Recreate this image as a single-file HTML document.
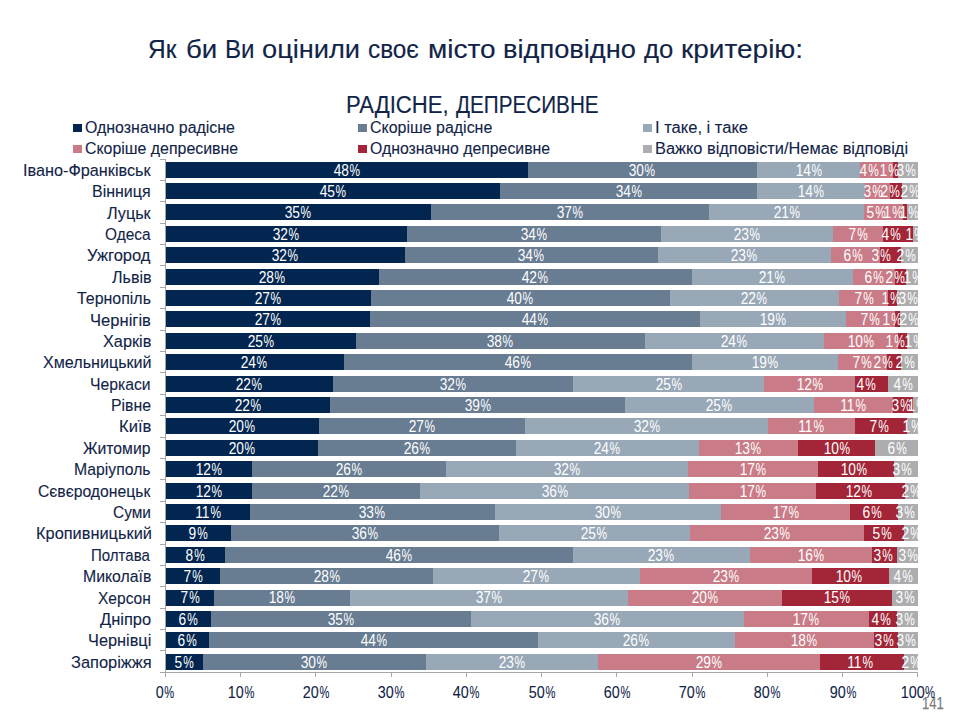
<!DOCTYPE html><html><head><meta charset="utf-8"><style>
html,body{margin:0;padding:0;background:#fff;width:955px;height:719px;overflow:hidden;}
body{position:relative;font-family:"Liberation Sans",sans-serif;}
.t{position:absolute;white-space:nowrap;}
.b{position:absolute;}
</style></head><body>
<div class="b" style="left:73.2px;top:123.7px;width:8.4px;height:8.2px;background:#022650"></div>
<div class="b" style="left:358.2px;top:123.7px;width:8.4px;height:8.2px;background:#687c92"></div>
<div class="b" style="left:643.2px;top:123.7px;width:8.4px;height:8.2px;background:#98a8b7"></div>
<div class="b" style="left:73.2px;top:144.8px;width:8.4px;height:8.2px;background:#c97c87"></div>
<div class="b" style="left:358.2px;top:144.8px;width:8.4px;height:8.2px;background:#a22638"></div>
<div class="b" style="left:643.2px;top:144.8px;width:8.4px;height:8.2px;background:#adadaf"></div>
<div class="t" style="left:148.38px;top:35.67px;font-size:26.5px;line-height:26.5px;color:#112448;transform:scaleX(0.9233);transform-origin:left;-webkit-text-stroke:0.15px #112448">Як</div>
<div class="t" style="left:186.06px;top:35.67px;font-size:26.5px;line-height:26.5px;color:#112448;transform:scaleX(1.0444);transform-origin:left;-webkit-text-stroke:0.15px #112448">би</div>
<div class="t" style="left:224.78px;top:35.67px;font-size:26.5px;line-height:26.5px;color:#112448;transform:scaleX(0.9103);transform-origin:left;-webkit-text-stroke:0.15px #112448">Ви</div>
<div class="t" style="left:262.07px;top:35.67px;font-size:26.5px;line-height:26.5px;color:#112448;transform:scaleX(1.0269);transform-origin:left;-webkit-text-stroke:0.15px #112448">оцінили</div>
<div class="t" style="left:367.58px;top:35.67px;font-size:26.5px;line-height:26.5px;color:#112448;transform:scaleX(0.9185);transform-origin:left;-webkit-text-stroke:0.15px #112448">своє</div>
<div class="t" style="left:428.48px;top:35.67px;font-size:26.5px;line-height:26.5px;color:#112448;transform:scaleX(1.0590);transform-origin:left;-webkit-text-stroke:0.15px #112448">місто</div>
<div class="t" style="left:503.04px;top:35.67px;font-size:26.5px;line-height:26.5px;color:#112448;transform:scaleX(1.0278);transform-origin:left;-webkit-text-stroke:0.15px #112448">відповідно</div>
<div class="t" style="left:643.80px;top:35.67px;font-size:26.5px;line-height:26.5px;color:#112448;transform:scaleX(0.9690);transform-origin:left;-webkit-text-stroke:0.15px #112448">до</div>
<div class="t" style="left:680.69px;top:35.67px;font-size:26.5px;line-height:26.5px;color:#112448;transform:scaleX(1.0568);transform-origin:left;-webkit-text-stroke:0.15px #112448">критерію:</div>
<div class="t" style="left:346.08px;top:93.03px;font-size:24.3px;line-height:24.3px;color:#112448;transform:scaleX(0.9092);transform-origin:left;-webkit-text-stroke:0.15px #112448">РАДІСНЕ,</div>
<div class="t" style="left:456.40px;top:93.03px;font-size:24.3px;line-height:24.3px;color:#112448;transform:scaleX(0.8515);transform-origin:left;-webkit-text-stroke:0.15px #112448">ДЕПРЕСИВНЕ</div>
<div class="t" style="left:84.70px;top:119.66px;font-size:16.0px;line-height:16.0px;color:#112448;transform:scaleX(0.9953);transform-origin:left;-webkit-text-stroke:0.1px #112448">Однозначно радісне</div>
<div class="t" style="left:369.80px;top:119.66px;font-size:16.0px;line-height:16.0px;color:#112448;transform:scaleX(0.9967);transform-origin:left;-webkit-text-stroke:0.1px #112448">Скоріше радісне</div>
<div class="t" style="left:655.37px;top:119.66px;font-size:16.0px;line-height:16.0px;color:#112448;transform:scaleX(1.0337);transform-origin:left;-webkit-text-stroke:0.1px #112448">І таке, і таке</div>
<div class="t" style="left:84.71px;top:141.36px;font-size:16.0px;line-height:16.0px;color:#112448;transform:scaleX(0.9935);transform-origin:left;-webkit-text-stroke:0.1px #112448">Скоріше депресивне</div>
<div class="t" style="left:369.81px;top:141.36px;font-size:16.0px;line-height:16.0px;color:#112448;transform:scaleX(0.9890);transform-origin:left;-webkit-text-stroke:0.1px #112448">Однозначно депресивне</div>
<div class="t" style="left:655.38px;top:141.36px;font-size:16.0px;line-height:16.0px;color:#112448;transform:scaleX(1.0229);transform-origin:left;-webkit-text-stroke:0.1px #112448">Важко відповісти/Немає відповіді</div>
<div class="t" style="left:922.37px;top:696.13px;font-size:15.8px;line-height:15.8px;color:#7f7f7f;transform:scaleX(0.8280);transform-origin:left;-webkit-text-stroke:0.25px #7f7f7f">141</div>
<div class="b" style="left:165.30px;top:161.70px;width:752.50px;height:16px;background:#022650"></div>
<div class="b" style="left:527.90px;top:161.70px;width:389.90px;height:16px;background:#687c92"></div>
<div class="b" style="left:757.00px;top:161.70px;width:160.80px;height:16px;background:#98a8b7"></div>
<div class="b" style="left:860.40px;top:161.70px;width:57.40px;height:16px;background:#c97c87"></div>
<div class="b" style="left:893.20px;top:161.70px;width:24.60px;height:16px;background:#a22638"></div>
<div class="b" style="left:897.80px;top:161.70px;width:20.00px;height:16px;background:#adadaf"></div>
<div class="b" style="left:165.30px;top:183.09px;width:752.50px;height:16px;background:#022650"></div>
<div class="b" style="left:499.90px;top:183.09px;width:417.90px;height:16px;background:#687c92"></div>
<div class="b" style="left:757.10px;top:183.09px;width:160.70px;height:16px;background:#98a8b7"></div>
<div class="b" style="left:865.30px;top:183.09px;width:52.50px;height:16px;background:#c97c87"></div>
<div class="b" style="left:890.20px;top:183.09px;width:27.60px;height:16px;background:#a22638"></div>
<div class="b" style="left:902.20px;top:183.09px;width:15.60px;height:16px;background:#adadaf"></div>
<div class="b" style="left:165.30px;top:204.48px;width:752.50px;height:16px;background:#022650"></div>
<div class="b" style="left:430.80px;top:204.48px;width:487.00px;height:16px;background:#687c92"></div>
<div class="b" style="left:708.90px;top:204.48px;width:208.90px;height:16px;background:#98a8b7"></div>
<div class="b" style="left:864.40px;top:204.48px;width:53.40px;height:16px;background:#c97c87"></div>
<div class="b" style="left:902.80px;top:204.48px;width:15.00px;height:16px;background:#a22638"></div>
<div class="b" style="left:907.10px;top:204.48px;width:10.70px;height:16px;background:#adadaf"></div>
<div class="b" style="left:165.30px;top:225.87px;width:752.50px;height:16px;background:#022650"></div>
<div class="b" style="left:407.00px;top:225.87px;width:510.80px;height:16px;background:#687c92"></div>
<div class="b" style="left:660.90px;top:225.87px;width:256.90px;height:16px;background:#98a8b7"></div>
<div class="b" style="left:832.50px;top:225.87px;width:85.30px;height:16px;background:#c97c87"></div>
<div class="b" style="left:882.90px;top:225.87px;width:34.90px;height:16px;background:#a22638"></div>
<div class="b" style="left:912.70px;top:225.87px;width:5.10px;height:16px;background:#adadaf"></div>
<div class="b" style="left:165.30px;top:247.26px;width:752.50px;height:16px;background:#022650"></div>
<div class="b" style="left:405.30px;top:247.26px;width:512.50px;height:16px;background:#687c92"></div>
<div class="b" style="left:657.60px;top:247.26px;width:260.20px;height:16px;background:#98a8b7"></div>
<div class="b" style="left:831.10px;top:247.26px;width:86.70px;height:16px;background:#c97c87"></div>
<div class="b" style="left:879.90px;top:247.26px;width:37.90px;height:16px;background:#a22638"></div>
<div class="b" style="left:900.80px;top:247.26px;width:17.00px;height:16px;background:#adadaf"></div>
<div class="b" style="left:165.30px;top:268.65px;width:752.50px;height:16px;background:#022650"></div>
<div class="b" style="left:378.50px;top:268.65px;width:539.30px;height:16px;background:#687c92"></div>
<div class="b" style="left:691.80px;top:268.65px;width:226.00px;height:16px;background:#98a8b7"></div>
<div class="b" style="left:853.00px;top:268.65px;width:64.80px;height:16px;background:#c97c87"></div>
<div class="b" style="left:895.20px;top:268.65px;width:22.60px;height:16px;background:#a22638"></div>
<div class="b" style="left:906.10px;top:268.65px;width:11.70px;height:16px;background:#adadaf"></div>
<div class="b" style="left:165.30px;top:290.04px;width:752.50px;height:16px;background:#022650"></div>
<div class="b" style="left:370.80px;top:290.04px;width:547.00px;height:16px;background:#687c92"></div>
<div class="b" style="left:669.80px;top:290.04px;width:248.00px;height:16px;background:#98a8b7"></div>
<div class="b" style="left:839.00px;top:290.04px;width:78.80px;height:16px;background:#c97c87"></div>
<div class="b" style="left:888.20px;top:290.04px;width:29.60px;height:16px;background:#a22638"></div>
<div class="b" style="left:897.20px;top:290.04px;width:20.60px;height:16px;background:#adadaf"></div>
<div class="b" style="left:165.30px;top:311.43px;width:752.50px;height:16px;background:#022650"></div>
<div class="b" style="left:369.80px;top:311.43px;width:548.00px;height:16px;background:#687c92"></div>
<div class="b" style="left:699.80px;top:311.43px;width:218.00px;height:16px;background:#98a8b7"></div>
<div class="b" style="left:845.50px;top:311.43px;width:72.30px;height:16px;background:#c97c87"></div>
<div class="b" style="left:895.20px;top:311.43px;width:22.60px;height:16px;background:#a22638"></div>
<div class="b" style="left:900.20px;top:311.43px;width:17.60px;height:16px;background:#adadaf"></div>
<div class="b" style="left:165.30px;top:332.82px;width:752.50px;height:16px;background:#022650"></div>
<div class="b" style="left:355.70px;top:332.82px;width:562.10px;height:16px;background:#687c92"></div>
<div class="b" style="left:644.90px;top:332.82px;width:272.90px;height:16px;background:#98a8b7"></div>
<div class="b" style="left:823.60px;top:332.82px;width:94.20px;height:16px;background:#c97c87"></div>
<div class="b" style="left:898.20px;top:332.82px;width:19.60px;height:16px;background:#a22638"></div>
<div class="b" style="left:907.10px;top:332.82px;width:10.70px;height:16px;background:#adadaf"></div>
<div class="b" style="left:165.30px;top:354.21px;width:752.50px;height:16px;background:#022650"></div>
<div class="b" style="left:343.60px;top:354.21px;width:574.20px;height:16px;background:#687c92"></div>
<div class="b" style="left:692.10px;top:354.21px;width:225.70px;height:16px;background:#98a8b7"></div>
<div class="b" style="left:837.50px;top:354.21px;width:80.30px;height:16px;background:#c97c87"></div>
<div class="b" style="left:887.20px;top:354.21px;width:30.60px;height:16px;background:#a22638"></div>
<div class="b" style="left:900.80px;top:354.21px;width:17.00px;height:16px;background:#adadaf"></div>
<div class="b" style="left:165.30px;top:375.60px;width:752.50px;height:16px;background:#022650"></div>
<div class="b" style="left:332.90px;top:375.60px;width:584.90px;height:16px;background:#687c92"></div>
<div class="b" style="left:573.10px;top:375.60px;width:344.70px;height:16px;background:#98a8b7"></div>
<div class="b" style="left:763.90px;top:375.60px;width:153.90px;height:16px;background:#c97c87"></div>
<div class="b" style="left:855.40px;top:375.60px;width:62.40px;height:16px;background:#a22638"></div>
<div class="b" style="left:888.20px;top:375.60px;width:29.60px;height:16px;background:#adadaf"></div>
<div class="b" style="left:165.30px;top:396.99px;width:752.50px;height:16px;background:#022650"></div>
<div class="b" style="left:330.20px;top:396.99px;width:587.60px;height:16px;background:#687c92"></div>
<div class="b" style="left:625.10px;top:396.99px;width:292.70px;height:16px;background:#98a8b7"></div>
<div class="b" style="left:813.60px;top:396.99px;width:104.20px;height:16px;background:#c97c87"></div>
<div class="b" style="left:892.80px;top:396.99px;width:25.00px;height:16px;background:#a22638"></div>
<div class="b" style="left:912.70px;top:396.99px;width:5.10px;height:16px;background:#adadaf"></div>
<div class="b" style="left:165.30px;top:418.38px;width:752.50px;height:16px;background:#022650"></div>
<div class="b" style="left:318.80px;top:418.38px;width:599.00px;height:16px;background:#687c92"></div>
<div class="b" style="left:524.90px;top:418.38px;width:392.90px;height:16px;background:#98a8b7"></div>
<div class="b" style="left:768.30px;top:418.38px;width:149.50px;height:16px;background:#c97c87"></div>
<div class="b" style="left:854.60px;top:418.38px;width:63.20px;height:16px;background:#a22638"></div>
<div class="b" style="left:907.10px;top:418.38px;width:10.70px;height:16px;background:#adadaf"></div>
<div class="b" style="left:165.30px;top:439.77px;width:752.50px;height:16px;background:#022650"></div>
<div class="b" style="left:317.80px;top:439.77px;width:600.00px;height:16px;background:#687c92"></div>
<div class="b" style="left:515.50px;top:439.77px;width:402.30px;height:16px;background:#98a8b7"></div>
<div class="b" style="left:698.50px;top:439.77px;width:219.30px;height:16px;background:#c97c87"></div>
<div class="b" style="left:797.70px;top:439.77px;width:120.10px;height:16px;background:#a22638"></div>
<div class="b" style="left:875.30px;top:439.77px;width:42.50px;height:16px;background:#adadaf"></div>
<div class="b" style="left:165.30px;top:461.16px;width:752.50px;height:16px;background:#022650"></div>
<div class="b" style="left:251.80px;top:461.16px;width:666.00px;height:16px;background:#687c92"></div>
<div class="b" style="left:445.80px;top:461.16px;width:472.00px;height:16px;background:#98a8b7"></div>
<div class="b" style="left:688.40px;top:461.16px;width:229.40px;height:16px;background:#c97c87"></div>
<div class="b" style="left:818.00px;top:461.16px;width:99.80px;height:16px;background:#a22638"></div>
<div class="b" style="left:893.80px;top:461.16px;width:24.00px;height:16px;background:#adadaf"></div>
<div class="b" style="left:165.30px;top:482.55px;width:752.50px;height:16px;background:#022650"></div>
<div class="b" style="left:251.80px;top:482.55px;width:666.00px;height:16px;background:#687c92"></div>
<div class="b" style="left:420.40px;top:482.55px;width:497.40px;height:16px;background:#98a8b7"></div>
<div class="b" style="left:689.40px;top:482.55px;width:228.40px;height:16px;background:#c97c87"></div>
<div class="b" style="left:816.00px;top:482.55px;width:101.80px;height:16px;background:#a22638"></div>
<div class="b" style="left:904.70px;top:482.55px;width:13.10px;height:16px;background:#adadaf"></div>
<div class="b" style="left:165.30px;top:503.94px;width:752.50px;height:16px;background:#022650"></div>
<div class="b" style="left:249.80px;top:503.94px;width:668.00px;height:16px;background:#687c92"></div>
<div class="b" style="left:495.10px;top:503.94px;width:422.70px;height:16px;background:#98a8b7"></div>
<div class="b" style="left:720.60px;top:503.94px;width:197.20px;height:16px;background:#c97c87"></div>
<div class="b" style="left:850.40px;top:503.94px;width:67.40px;height:16px;background:#a22638"></div>
<div class="b" style="left:897.80px;top:503.94px;width:20.00px;height:16px;background:#adadaf"></div>
<div class="b" style="left:165.30px;top:525.33px;width:752.50px;height:16px;background:#022650"></div>
<div class="b" style="left:230.70px;top:525.33px;width:687.10px;height:16px;background:#687c92"></div>
<div class="b" style="left:499.10px;top:525.33px;width:418.70px;height:16px;background:#98a8b7"></div>
<div class="b" style="left:689.80px;top:525.33px;width:228.00px;height:16px;background:#c97c87"></div>
<div class="b" style="left:864.00px;top:525.33px;width:53.80px;height:16px;background:#a22638"></div>
<div class="b" style="left:904.10px;top:525.33px;width:13.70px;height:16px;background:#adadaf"></div>
<div class="b" style="left:165.30px;top:546.72px;width:752.50px;height:16px;background:#022650"></div>
<div class="b" style="left:224.70px;top:546.72px;width:693.10px;height:16px;background:#687c92"></div>
<div class="b" style="left:573.10px;top:546.72px;width:344.70px;height:16px;background:#98a8b7"></div>
<div class="b" style="left:749.60px;top:546.72px;width:168.20px;height:16px;background:#c97c87"></div>
<div class="b" style="left:871.90px;top:546.72px;width:45.90px;height:16px;background:#a22638"></div>
<div class="b" style="left:897.20px;top:546.72px;width:20.60px;height:16px;background:#adadaf"></div>
<div class="b" style="left:165.30px;top:568.11px;width:752.50px;height:16px;background:#022650"></div>
<div class="b" style="left:220.00px;top:568.11px;width:697.80px;height:16px;background:#687c92"></div>
<div class="b" style="left:433.10px;top:568.11px;width:484.70px;height:16px;background:#98a8b7"></div>
<div class="b" style="left:639.50px;top:568.11px;width:278.30px;height:16px;background:#c97c87"></div>
<div class="b" style="left:812.20px;top:568.11px;width:105.60px;height:16px;background:#a22638"></div>
<div class="b" style="left:888.80px;top:568.11px;width:29.00px;height:16px;background:#adadaf"></div>
<div class="b" style="left:165.30px;top:589.50px;width:752.50px;height:16px;background:#022650"></div>
<div class="b" style="left:214.30px;top:589.50px;width:703.50px;height:16px;background:#687c92"></div>
<div class="b" style="left:350.00px;top:589.50px;width:567.80px;height:16px;background:#98a8b7"></div>
<div class="b" style="left:628.40px;top:589.50px;width:289.40px;height:16px;background:#c97c87"></div>
<div class="b" style="left:781.80px;top:589.50px;width:136.00px;height:16px;background:#a22638"></div>
<div class="b" style="left:892.20px;top:589.50px;width:25.60px;height:16px;background:#adadaf"></div>
<div class="b" style="left:165.30px;top:610.89px;width:752.50px;height:16px;background:#022650"></div>
<div class="b" style="left:210.90px;top:610.89px;width:706.90px;height:16px;background:#687c92"></div>
<div class="b" style="left:471.00px;top:610.89px;width:446.80px;height:16px;background:#98a8b7"></div>
<div class="b" style="left:743.60px;top:610.89px;width:174.20px;height:16px;background:#c97c87"></div>
<div class="b" style="left:868.90px;top:610.89px;width:48.90px;height:16px;background:#a22638"></div>
<div class="b" style="left:897.20px;top:610.89px;width:20.60px;height:16px;background:#adadaf"></div>
<div class="b" style="left:165.30px;top:632.28px;width:752.50px;height:16px;background:#022650"></div>
<div class="b" style="left:209.20px;top:632.28px;width:708.60px;height:16px;background:#687c92"></div>
<div class="b" style="left:538.00px;top:632.28px;width:379.80px;height:16px;background:#98a8b7"></div>
<div class="b" style="left:734.70px;top:632.28px;width:183.10px;height:16px;background:#c97c87"></div>
<div class="b" style="left:873.90px;top:632.28px;width:43.90px;height:16px;background:#a22638"></div>
<div class="b" style="left:898.20px;top:632.28px;width:19.60px;height:16px;background:#adadaf"></div>
<div class="b" style="left:165.30px;top:653.67px;width:752.50px;height:16px;background:#022650"></div>
<div class="b" style="left:202.90px;top:653.67px;width:714.90px;height:16px;background:#687c92"></div>
<div class="b" style="left:426.00px;top:653.67px;width:491.80px;height:16px;background:#98a8b7"></div>
<div class="b" style="left:597.90px;top:653.67px;width:319.90px;height:16px;background:#c97c87"></div>
<div class="b" style="left:820.20px;top:653.67px;width:97.60px;height:16px;background:#a22638"></div>
<div class="b" style="left:903.70px;top:653.67px;width:14.10px;height:16px;background:#adadaf"></div>
<div style="position:absolute;left:0;top:0;width:917.80px;height:719px;overflow:hidden">
<div class="t" style="left:346.60px;top:162.67px;font-size:16.8px;line-height:16.8px;color:#ffffff;-webkit-text-stroke:0px #fff;"><span style="display:block;position:absolute;left:-200px;width:400px;text-align:center;transform:scaleX(0.82);transform-origin:center">48<span style="display:inline-block;transform:scaleX(0.86);transform-origin:left;margin-left:1.0px;margin-right:-2.09px">%</span></span></div>
<div class="t" style="left:642.45px;top:162.67px;font-size:16.8px;line-height:16.8px;color:#ffffff;-webkit-text-stroke:0px #fff;"><span style="display:block;position:absolute;left:-200px;width:400px;text-align:center;transform:scaleX(0.82);transform-origin:center">30<span style="display:inline-block;transform:scaleX(0.86);transform-origin:left;margin-left:1.0px;margin-right:-2.09px">%</span></span></div>
<div class="t" style="left:808.70px;top:162.67px;font-size:16.8px;line-height:16.8px;color:#ffffff;-webkit-text-stroke:0px #fff;"><span style="display:block;position:absolute;left:-200px;width:400px;text-align:center;transform:scaleX(0.82);transform-origin:center">14<span style="display:inline-block;transform:scaleX(0.86);transform-origin:left;margin-left:1.0px;margin-right:-2.09px">%</span></span></div>
<div class="t" style="left:868.95px;top:162.67px;font-size:16.8px;line-height:16.8px;color:#ffffff;-webkit-text-stroke:0px #fff;"><span style="display:block;position:absolute;left:-200px;width:400px;text-align:center;transform:scaleX(0.82);transform-origin:center">4<span style="display:inline-block;transform:scaleX(0.86);transform-origin:left;margin-left:1.0px;margin-right:-2.09px">%</span></span></div>
<div class="t" style="left:889.30px;top:162.67px;font-size:16.8px;line-height:16.8px;color:#ffffff;-webkit-text-stroke:0px #fff;"><span style="display:block;position:absolute;left:-200px;width:400px;text-align:center;transform:scaleX(0.82);transform-origin:center">1<span style="display:inline-block;transform:scaleX(0.86);transform-origin:left;margin-left:1.0px;margin-right:-2.09px">%</span></span></div>
<div class="t" style="left:905.80px;top:162.67px;font-size:16.8px;line-height:16.8px;color:#ffffff;-webkit-text-stroke:0px #fff;"><span style="display:block;position:absolute;left:-200px;width:400px;text-align:center;transform:scaleX(0.82);transform-origin:center">3<span style="display:inline-block;transform:scaleX(0.86);transform-origin:left;margin-left:1.0px;margin-right:-2.09px">%</span></span></div>
<div class="t" style="left:332.60px;top:184.06px;font-size:16.8px;line-height:16.8px;color:#ffffff;-webkit-text-stroke:0px #fff;"><span style="display:block;position:absolute;left:-200px;width:400px;text-align:center;transform:scaleX(0.82);transform-origin:center">45<span style="display:inline-block;transform:scaleX(0.86);transform-origin:left;margin-left:1.0px;margin-right:-2.09px">%</span></span></div>
<div class="t" style="left:628.50px;top:184.06px;font-size:16.8px;line-height:16.8px;color:#ffffff;-webkit-text-stroke:0px #fff;"><span style="display:block;position:absolute;left:-200px;width:400px;text-align:center;transform:scaleX(0.82);transform-origin:center">34<span style="display:inline-block;transform:scaleX(0.86);transform-origin:left;margin-left:1.0px;margin-right:-2.09px">%</span></span></div>
<div class="t" style="left:811.20px;top:184.06px;font-size:16.8px;line-height:16.8px;color:#ffffff;-webkit-text-stroke:0px #fff;"><span style="display:block;position:absolute;left:-200px;width:400px;text-align:center;transform:scaleX(0.82);transform-origin:center">14<span style="display:inline-block;transform:scaleX(0.86);transform-origin:left;margin-left:1.0px;margin-right:-2.09px">%</span></span></div>
<div class="t" style="left:873.45px;top:184.06px;font-size:16.8px;line-height:16.8px;color:#ffffff;-webkit-text-stroke:0px #fff;"><span style="display:block;position:absolute;left:-200px;width:400px;text-align:center;transform:scaleX(0.82);transform-origin:center">3<span style="display:inline-block;transform:scaleX(0.86);transform-origin:left;margin-left:1.0px;margin-right:-2.09px">%</span></span></div>
<div class="t" style="left:890.20px;top:184.06px;font-size:16.8px;line-height:16.8px;color:#ffffff;-webkit-text-stroke:0px #fff;"><span style="display:block;position:absolute;left:-200px;width:400px;text-align:center;transform:scaleX(0.82);transform-origin:center">2<span style="display:inline-block;transform:scaleX(0.86);transform-origin:left;margin-left:1.0px;margin-right:-2.09px">%</span></span></div>
<div class="t" style="left:910.10px;top:184.06px;font-size:16.8px;line-height:16.8px;color:#ffffff;-webkit-text-stroke:0px #fff;"><span style="display:block;position:absolute;left:-200px;width:400px;text-align:center;transform:scaleX(0.82);transform-origin:center">2<span style="display:inline-block;transform:scaleX(0.86);transform-origin:left;margin-left:1.0px;margin-right:-2.09px">%</span></span></div>
<div class="t" style="left:298.05px;top:205.45px;font-size:16.8px;line-height:16.8px;color:#ffffff;-webkit-text-stroke:0px #fff;"><span style="display:block;position:absolute;left:-200px;width:400px;text-align:center;transform:scaleX(0.82);transform-origin:center">35<span style="display:inline-block;transform:scaleX(0.86);transform-origin:left;margin-left:1.0px;margin-right:-2.09px">%</span></span></div>
<div class="t" style="left:569.85px;top:205.45px;font-size:16.8px;line-height:16.8px;color:#ffffff;-webkit-text-stroke:0px #fff;"><span style="display:block;position:absolute;left:-200px;width:400px;text-align:center;transform:scaleX(0.82);transform-origin:center">37<span style="display:inline-block;transform:scaleX(0.86);transform-origin:left;margin-left:1.0px;margin-right:-2.09px">%</span></span></div>
<div class="t" style="left:786.65px;top:205.45px;font-size:16.8px;line-height:16.8px;color:#ffffff;-webkit-text-stroke:0px #fff;"><span style="display:block;position:absolute;left:-200px;width:400px;text-align:center;transform:scaleX(0.82);transform-origin:center">21<span style="display:inline-block;transform:scaleX(0.86);transform-origin:left;margin-left:1.0px;margin-right:-2.09px">%</span></span></div>
<div class="t" style="left:875.75px;top:205.45px;font-size:16.8px;line-height:16.8px;color:#ffffff;-webkit-text-stroke:0px #fff;"><span style="display:block;position:absolute;left:-200px;width:400px;text-align:center;transform:scaleX(0.82);transform-origin:center">5<span style="display:inline-block;transform:scaleX(0.86);transform-origin:left;margin-left:1.0px;margin-right:-2.09px">%</span></span></div>
<div class="t" style="left:892.70px;top:205.45px;font-size:16.8px;line-height:16.8px;color:#ffffff;-webkit-text-stroke:0px #fff;"><span style="display:block;position:absolute;left:-200px;width:400px;text-align:center;transform:scaleX(0.82);transform-origin:center">1<span style="display:inline-block;transform:scaleX(0.86);transform-origin:left;margin-left:1.0px;margin-right:-2.09px">%</span></span></div>
<div class="t" style="left:909.20px;top:205.45px;font-size:16.8px;line-height:16.8px;color:#ffffff;-webkit-text-stroke:0px #fff;"><span style="display:block;position:absolute;left:-200px;width:400px;text-align:center;transform:scaleX(0.82);transform-origin:center">1<span style="display:inline-block;transform:scaleX(0.86);transform-origin:left;margin-left:1.0px;margin-right:-2.09px">%</span></span></div>
<div class="t" style="left:286.15px;top:226.84px;font-size:16.8px;line-height:16.8px;color:#ffffff;-webkit-text-stroke:0px #fff;"><span style="display:block;position:absolute;left:-200px;width:400px;text-align:center;transform:scaleX(0.82);transform-origin:center">32<span style="display:inline-block;transform:scaleX(0.86);transform-origin:left;margin-left:1.0px;margin-right:-2.09px">%</span></span></div>
<div class="t" style="left:533.95px;top:226.84px;font-size:16.8px;line-height:16.8px;color:#ffffff;-webkit-text-stroke:0px #fff;"><span style="display:block;position:absolute;left:-200px;width:400px;text-align:center;transform:scaleX(0.82);transform-origin:center">34<span style="display:inline-block;transform:scaleX(0.86);transform-origin:left;margin-left:1.0px;margin-right:-2.09px">%</span></span></div>
<div class="t" style="left:746.70px;top:226.84px;font-size:16.8px;line-height:16.8px;color:#ffffff;-webkit-text-stroke:0px #fff;"><span style="display:block;position:absolute;left:-200px;width:400px;text-align:center;transform:scaleX(0.82);transform-origin:center">23<span style="display:inline-block;transform:scaleX(0.86);transform-origin:left;margin-left:1.0px;margin-right:-2.09px">%</span></span></div>
<div class="t" style="left:857.70px;top:226.84px;font-size:16.8px;line-height:16.8px;color:#ffffff;-webkit-text-stroke:0px #fff;"><span style="display:block;position:absolute;left:-200px;width:400px;text-align:center;transform:scaleX(0.82);transform-origin:center">7<span style="display:inline-block;transform:scaleX(0.86);transform-origin:left;margin-left:1.0px;margin-right:-2.09px">%</span></span></div>
<div class="t" style="left:890.85px;top:226.84px;font-size:16.8px;line-height:16.8px;color:#ffffff;-webkit-text-stroke:0px #fff;"><span style="display:block;position:absolute;left:-200px;width:400px;text-align:center;transform:scaleX(0.82);transform-origin:center">4<span style="display:inline-block;transform:scaleX(0.86);transform-origin:left;margin-left:1.0px;margin-right:-2.09px">%</span></span></div>
<div class="t" style="left:915.25px;top:226.84px;font-size:16.8px;line-height:16.8px;color:#ffffff;-webkit-text-stroke:0px #fff;"><span style="display:block;position:absolute;left:-200px;width:400px;text-align:center;transform:scaleX(0.82);transform-origin:center">1<span style="display:inline-block;transform:scaleX(0.86);transform-origin:left;margin-left:1.0px;margin-right:-2.09px">%</span></span></div>
<div class="t" style="left:285.30px;top:248.23px;font-size:16.8px;line-height:16.8px;color:#ffffff;-webkit-text-stroke:0px #fff;"><span style="display:block;position:absolute;left:-200px;width:400px;text-align:center;transform:scaleX(0.82);transform-origin:center">32<span style="display:inline-block;transform:scaleX(0.86);transform-origin:left;margin-left:1.0px;margin-right:-2.09px">%</span></span></div>
<div class="t" style="left:531.45px;top:248.23px;font-size:16.8px;line-height:16.8px;color:#ffffff;-webkit-text-stroke:0px #fff;"><span style="display:block;position:absolute;left:-200px;width:400px;text-align:center;transform:scaleX(0.82);transform-origin:center">34<span style="display:inline-block;transform:scaleX(0.86);transform-origin:left;margin-left:1.0px;margin-right:-2.09px">%</span></span></div>
<div class="t" style="left:744.35px;top:248.23px;font-size:16.8px;line-height:16.8px;color:#ffffff;-webkit-text-stroke:0px #fff;"><span style="display:block;position:absolute;left:-200px;width:400px;text-align:center;transform:scaleX(0.82);transform-origin:center">23<span style="display:inline-block;transform:scaleX(0.86);transform-origin:left;margin-left:1.0px;margin-right:-2.09px">%</span></span></div>
<div class="t" style="left:852.60px;top:248.23px;font-size:16.8px;line-height:16.8px;color:#ffffff;-webkit-text-stroke:0px #fff;"><span style="display:block;position:absolute;left:-200px;width:400px;text-align:center;transform:scaleX(0.82);transform-origin:center">6<span style="display:inline-block;transform:scaleX(0.86);transform-origin:left;margin-left:1.0px;margin-right:-2.09px">%</span></span></div>
<div class="t" style="left:881.00px;top:248.23px;font-size:16.8px;line-height:16.8px;color:#ffffff;-webkit-text-stroke:0px #fff;"><span style="display:block;position:absolute;left:-200px;width:400px;text-align:center;transform:scaleX(0.82);transform-origin:center">3<span style="display:inline-block;transform:scaleX(0.86);transform-origin:left;margin-left:1.0px;margin-right:-2.09px">%</span></span></div>
<div class="t" style="left:905.80px;top:248.23px;font-size:16.8px;line-height:16.8px;color:#ffffff;-webkit-text-stroke:0px #fff;"><span style="display:block;position:absolute;left:-200px;width:400px;text-align:center;transform:scaleX(0.82);transform-origin:center">2<span style="display:inline-block;transform:scaleX(0.86);transform-origin:left;margin-left:1.0px;margin-right:-2.09px">%</span></span></div>
<div class="t" style="left:271.90px;top:269.62px;font-size:16.8px;line-height:16.8px;color:#ffffff;-webkit-text-stroke:0px #fff;"><span style="display:block;position:absolute;left:-200px;width:400px;text-align:center;transform:scaleX(0.82);transform-origin:center">28<span style="display:inline-block;transform:scaleX(0.86);transform-origin:left;margin-left:1.0px;margin-right:-2.09px">%</span></span></div>
<div class="t" style="left:535.15px;top:269.62px;font-size:16.8px;line-height:16.8px;color:#ffffff;-webkit-text-stroke:0px #fff;"><span style="display:block;position:absolute;left:-200px;width:400px;text-align:center;transform:scaleX(0.82);transform-origin:center">42<span style="display:inline-block;transform:scaleX(0.86);transform-origin:left;margin-left:1.0px;margin-right:-2.09px">%</span></span></div>
<div class="t" style="left:772.40px;top:269.62px;font-size:16.8px;line-height:16.8px;color:#ffffff;-webkit-text-stroke:0px #fff;"><span style="display:block;position:absolute;left:-200px;width:400px;text-align:center;transform:scaleX(0.82);transform-origin:center">21<span style="display:inline-block;transform:scaleX(0.86);transform-origin:left;margin-left:1.0px;margin-right:-2.09px">%</span></span></div>
<div class="t" style="left:874.10px;top:269.62px;font-size:16.8px;line-height:16.8px;color:#ffffff;-webkit-text-stroke:0px #fff;"><span style="display:block;position:absolute;left:-200px;width:400px;text-align:center;transform:scaleX(0.82);transform-origin:center">6<span style="display:inline-block;transform:scaleX(0.86);transform-origin:left;margin-left:1.0px;margin-right:-2.09px">%</span></span></div>
<div class="t" style="left:895.40px;top:269.62px;font-size:16.8px;line-height:16.8px;color:#ffffff;-webkit-text-stroke:0px #fff;"><span style="display:block;position:absolute;left:-200px;width:400px;text-align:center;transform:scaleX(0.82);transform-origin:center">2<span style="display:inline-block;transform:scaleX(0.86);transform-origin:left;margin-left:1.0px;margin-right:-2.09px">%</span></span></div>
<div class="t" style="left:913.20px;top:269.62px;font-size:16.8px;line-height:16.8px;color:#ffffff;-webkit-text-stroke:0px #fff;"><span style="display:block;position:absolute;left:-200px;width:400px;text-align:center;transform:scaleX(0.82);transform-origin:center">1<span style="display:inline-block;transform:scaleX(0.86);transform-origin:left;margin-left:1.0px;margin-right:-2.09px">%</span></span></div>
<div class="t" style="left:268.05px;top:291.01px;font-size:16.8px;line-height:16.8px;color:#ffffff;-webkit-text-stroke:0px #fff;"><span style="display:block;position:absolute;left:-200px;width:400px;text-align:center;transform:scaleX(0.82);transform-origin:center">27<span style="display:inline-block;transform:scaleX(0.86);transform-origin:left;margin-left:1.0px;margin-right:-2.09px">%</span></span></div>
<div class="t" style="left:520.30px;top:291.01px;font-size:16.8px;line-height:16.8px;color:#ffffff;-webkit-text-stroke:0px #fff;"><span style="display:block;position:absolute;left:-200px;width:400px;text-align:center;transform:scaleX(0.82);transform-origin:center">40<span style="display:inline-block;transform:scaleX(0.86);transform-origin:left;margin-left:1.0px;margin-right:-2.09px">%</span></span></div>
<div class="t" style="left:754.40px;top:291.01px;font-size:16.8px;line-height:16.8px;color:#ffffff;-webkit-text-stroke:0px #fff;"><span style="display:block;position:absolute;left:-200px;width:400px;text-align:center;transform:scaleX(0.82);transform-origin:center">22<span style="display:inline-block;transform:scaleX(0.86);transform-origin:left;margin-left:1.0px;margin-right:-2.09px">%</span></span></div>
<div class="t" style="left:863.60px;top:291.01px;font-size:16.8px;line-height:16.8px;color:#ffffff;-webkit-text-stroke:0px #fff;"><span style="display:block;position:absolute;left:-200px;width:400px;text-align:center;transform:scaleX(0.82);transform-origin:center">7<span style="display:inline-block;transform:scaleX(0.86);transform-origin:left;margin-left:1.0px;margin-right:-2.09px">%</span></span></div>
<div class="t" style="left:891.00px;top:291.01px;font-size:16.8px;line-height:16.8px;color:#ffffff;-webkit-text-stroke:0px #fff;"><span style="display:block;position:absolute;left:-200px;width:400px;text-align:center;transform:scaleX(0.82);transform-origin:center">1<span style="display:inline-block;transform:scaleX(0.86);transform-origin:left;margin-left:1.0px;margin-right:-2.09px">%</span></span></div>
<div class="t" style="left:907.50px;top:291.01px;font-size:16.8px;line-height:16.8px;color:#ffffff;-webkit-text-stroke:0px #fff;"><span style="display:block;position:absolute;left:-200px;width:400px;text-align:center;transform:scaleX(0.82);transform-origin:center">3<span style="display:inline-block;transform:scaleX(0.86);transform-origin:left;margin-left:1.0px;margin-right:-2.09px">%</span></span></div>
<div class="t" style="left:267.55px;top:312.40px;font-size:16.8px;line-height:16.8px;color:#ffffff;-webkit-text-stroke:0px #fff;"><span style="display:block;position:absolute;left:-200px;width:400px;text-align:center;transform:scaleX(0.82);transform-origin:center">27<span style="display:inline-block;transform:scaleX(0.86);transform-origin:left;margin-left:1.0px;margin-right:-2.09px">%</span></span></div>
<div class="t" style="left:534.80px;top:312.40px;font-size:16.8px;line-height:16.8px;color:#ffffff;-webkit-text-stroke:0px #fff;"><span style="display:block;position:absolute;left:-200px;width:400px;text-align:center;transform:scaleX(0.82);transform-origin:center">44<span style="display:inline-block;transform:scaleX(0.86);transform-origin:left;margin-left:1.0px;margin-right:-2.09px">%</span></span></div>
<div class="t" style="left:772.65px;top:312.40px;font-size:16.8px;line-height:16.8px;color:#ffffff;-webkit-text-stroke:0px #fff;"><span style="display:block;position:absolute;left:-200px;width:400px;text-align:center;transform:scaleX(0.82);transform-origin:center">19<span style="display:inline-block;transform:scaleX(0.86);transform-origin:left;margin-left:1.0px;margin-right:-2.09px">%</span></span></div>
<div class="t" style="left:870.35px;top:312.40px;font-size:16.8px;line-height:16.8px;color:#ffffff;-webkit-text-stroke:0px #fff;"><span style="display:block;position:absolute;left:-200px;width:400px;text-align:center;transform:scaleX(0.82);transform-origin:center">7<span style="display:inline-block;transform:scaleX(0.86);transform-origin:left;margin-left:1.0px;margin-right:-2.09px">%</span></span></div>
<div class="t" style="left:891.55px;top:312.40px;font-size:16.8px;line-height:16.8px;color:#ffffff;-webkit-text-stroke:0px #fff;"><span style="display:block;position:absolute;left:-200px;width:400px;text-align:center;transform:scaleX(0.82);transform-origin:center">1<span style="display:inline-block;transform:scaleX(0.86);transform-origin:left;margin-left:1.0px;margin-right:-2.09px">%</span></span></div>
<div class="t" style="left:909.00px;top:312.40px;font-size:16.8px;line-height:16.8px;color:#ffffff;-webkit-text-stroke:0px #fff;"><span style="display:block;position:absolute;left:-200px;width:400px;text-align:center;transform:scaleX(0.82);transform-origin:center">2<span style="display:inline-block;transform:scaleX(0.86);transform-origin:left;margin-left:1.0px;margin-right:-2.09px">%</span></span></div>
<div class="t" style="left:260.50px;top:333.79px;font-size:16.8px;line-height:16.8px;color:#ffffff;-webkit-text-stroke:0px #fff;"><span style="display:block;position:absolute;left:-200px;width:400px;text-align:center;transform:scaleX(0.82);transform-origin:center">25<span style="display:inline-block;transform:scaleX(0.86);transform-origin:left;margin-left:1.0px;margin-right:-2.09px">%</span></span></div>
<div class="t" style="left:500.30px;top:333.79px;font-size:16.8px;line-height:16.8px;color:#ffffff;-webkit-text-stroke:0px #fff;"><span style="display:block;position:absolute;left:-200px;width:400px;text-align:center;transform:scaleX(0.82);transform-origin:center">38<span style="display:inline-block;transform:scaleX(0.86);transform-origin:left;margin-left:1.0px;margin-right:-2.09px">%</span></span></div>
<div class="t" style="left:734.25px;top:333.79px;font-size:16.8px;line-height:16.8px;color:#ffffff;-webkit-text-stroke:0px #fff;"><span style="display:block;position:absolute;left:-200px;width:400px;text-align:center;transform:scaleX(0.82);transform-origin:center">24<span style="display:inline-block;transform:scaleX(0.86);transform-origin:left;margin-left:1.0px;margin-right:-2.09px">%</span></span></div>
<div class="t" style="left:860.90px;top:333.79px;font-size:16.8px;line-height:16.8px;color:#ffffff;-webkit-text-stroke:0px #fff;"><span style="display:block;position:absolute;left:-200px;width:400px;text-align:center;transform:scaleX(0.82);transform-origin:center">10<span style="display:inline-block;transform:scaleX(0.86);transform-origin:left;margin-left:1.0px;margin-right:-2.09px">%</span></span></div>
<div class="t" style="left:894.50px;top:333.79px;font-size:16.8px;line-height:16.8px;color:#ffffff;-webkit-text-stroke:0px #fff;"><span style="display:block;position:absolute;left:-200px;width:400px;text-align:center;transform:scaleX(0.82);transform-origin:center">1<span style="display:inline-block;transform:scaleX(0.86);transform-origin:left;margin-left:1.0px;margin-right:-2.09px">%</span></span></div>
<div class="t" style="left:914.10px;top:333.79px;font-size:16.8px;line-height:16.8px;color:#ffffff;-webkit-text-stroke:0px #fff;"><span style="display:block;position:absolute;left:-200px;width:400px;text-align:center;transform:scaleX(0.82);transform-origin:center">1<span style="display:inline-block;transform:scaleX(0.86);transform-origin:left;margin-left:1.0px;margin-right:-2.09px">%</span></span></div>
<div class="t" style="left:254.45px;top:355.18px;font-size:16.8px;line-height:16.8px;color:#ffffff;-webkit-text-stroke:0px #fff;"><span style="display:block;position:absolute;left:-200px;width:400px;text-align:center;transform:scaleX(0.82);transform-origin:center">24<span style="display:inline-block;transform:scaleX(0.86);transform-origin:left;margin-left:1.0px;margin-right:-2.09px">%</span></span></div>
<div class="t" style="left:517.85px;top:355.18px;font-size:16.8px;line-height:16.8px;color:#ffffff;-webkit-text-stroke:0px #fff;"><span style="display:block;position:absolute;left:-200px;width:400px;text-align:center;transform:scaleX(0.82);transform-origin:center">46<span style="display:inline-block;transform:scaleX(0.86);transform-origin:left;margin-left:1.0px;margin-right:-2.09px">%</span></span></div>
<div class="t" style="left:764.80px;top:355.18px;font-size:16.8px;line-height:16.8px;color:#ffffff;-webkit-text-stroke:0px #fff;"><span style="display:block;position:absolute;left:-200px;width:400px;text-align:center;transform:scaleX(0.82);transform-origin:center">19<span style="display:inline-block;transform:scaleX(0.86);transform-origin:left;margin-left:1.0px;margin-right:-2.09px">%</span></span></div>
<div class="t" style="left:862.35px;top:355.18px;font-size:16.8px;line-height:16.8px;color:#ffffff;-webkit-text-stroke:0px #fff;"><span style="display:block;position:absolute;left:-200px;width:400px;text-align:center;transform:scaleX(0.82);transform-origin:center">7<span style="display:inline-block;transform:scaleX(0.86);transform-origin:left;margin-left:1.0px;margin-right:-2.09px">%</span></span></div>
<div class="t" style="left:883.00px;top:355.18px;font-size:16.8px;line-height:16.8px;color:#ffffff;-webkit-text-stroke:0px #fff;"><span style="display:block;position:absolute;left:-200px;width:400px;text-align:center;transform:scaleX(0.82);transform-origin:center">2<span style="display:inline-block;transform:scaleX(0.86);transform-origin:left;margin-left:1.0px;margin-right:-2.09px">%</span></span></div>
<div class="t" style="left:905.35px;top:355.18px;font-size:16.8px;line-height:16.8px;color:#ffffff;-webkit-text-stroke:0px #fff;"><span style="display:block;position:absolute;left:-200px;width:400px;text-align:center;transform:scaleX(0.82);transform-origin:center">2<span style="display:inline-block;transform:scaleX(0.86);transform-origin:left;margin-left:1.0px;margin-right:-2.09px">%</span></span></div>
<div class="t" style="left:249.10px;top:376.57px;font-size:16.8px;line-height:16.8px;color:#ffffff;-webkit-text-stroke:0px #fff;"><span style="display:block;position:absolute;left:-200px;width:400px;text-align:center;transform:scaleX(0.82);transform-origin:center">22<span style="display:inline-block;transform:scaleX(0.86);transform-origin:left;margin-left:1.0px;margin-right:-2.09px">%</span></span></div>
<div class="t" style="left:453.00px;top:376.57px;font-size:16.8px;line-height:16.8px;color:#ffffff;-webkit-text-stroke:0px #fff;"><span style="display:block;position:absolute;left:-200px;width:400px;text-align:center;transform:scaleX(0.82);transform-origin:center">32<span style="display:inline-block;transform:scaleX(0.86);transform-origin:left;margin-left:1.0px;margin-right:-2.09px">%</span></span></div>
<div class="t" style="left:668.50px;top:376.57px;font-size:16.8px;line-height:16.8px;color:#ffffff;-webkit-text-stroke:0px #fff;"><span style="display:block;position:absolute;left:-200px;width:400px;text-align:center;transform:scaleX(0.82);transform-origin:center">25<span style="display:inline-block;transform:scaleX(0.86);transform-origin:left;margin-left:1.0px;margin-right:-2.09px">%</span></span></div>
<div class="t" style="left:809.65px;top:376.57px;font-size:16.8px;line-height:16.8px;color:#ffffff;-webkit-text-stroke:0px #fff;"><span style="display:block;position:absolute;left:-200px;width:400px;text-align:center;transform:scaleX(0.82);transform-origin:center">12<span style="display:inline-block;transform:scaleX(0.86);transform-origin:left;margin-left:1.0px;margin-right:-2.09px">%</span></span></div>
<div class="t" style="left:866.25px;top:376.57px;font-size:16.8px;line-height:16.8px;color:#ffffff;-webkit-text-stroke:0px #fff;"><span style="display:block;position:absolute;left:-200px;width:400px;text-align:center;transform:scaleX(0.82);transform-origin:center">4<span style="display:inline-block;transform:scaleX(0.86);transform-origin:left;margin-left:1.0px;margin-right:-2.09px">%</span></span></div>
<div class="t" style="left:903.00px;top:376.57px;font-size:16.8px;line-height:16.8px;color:#ffffff;-webkit-text-stroke:0px #fff;"><span style="display:block;position:absolute;left:-200px;width:400px;text-align:center;transform:scaleX(0.82);transform-origin:center">4<span style="display:inline-block;transform:scaleX(0.86);transform-origin:left;margin-left:1.0px;margin-right:-2.09px">%</span></span></div>
<div class="t" style="left:247.75px;top:397.96px;font-size:16.8px;line-height:16.8px;color:#ffffff;-webkit-text-stroke:0px #fff;"><span style="display:block;position:absolute;left:-200px;width:400px;text-align:center;transform:scaleX(0.82);transform-origin:center">22<span style="display:inline-block;transform:scaleX(0.86);transform-origin:left;margin-left:1.0px;margin-right:-2.09px">%</span></span></div>
<div class="t" style="left:477.65px;top:397.96px;font-size:16.8px;line-height:16.8px;color:#ffffff;-webkit-text-stroke:0px #fff;"><span style="display:block;position:absolute;left:-200px;width:400px;text-align:center;transform:scaleX(0.82);transform-origin:center">39<span style="display:inline-block;transform:scaleX(0.86);transform-origin:left;margin-left:1.0px;margin-right:-2.09px">%</span></span></div>
<div class="t" style="left:719.35px;top:397.96px;font-size:16.8px;line-height:16.8px;color:#ffffff;-webkit-text-stroke:0px #fff;"><span style="display:block;position:absolute;left:-200px;width:400px;text-align:center;transform:scaleX(0.82);transform-origin:center">25<span style="display:inline-block;transform:scaleX(0.86);transform-origin:left;margin-left:1.0px;margin-right:-2.09px">%</span></span></div>
<div class="t" style="left:853.20px;top:397.96px;font-size:16.8px;line-height:16.8px;color:#ffffff;-webkit-text-stroke:0px #fff;"><span style="display:block;position:absolute;left:-200px;width:400px;text-align:center;transform:scaleX(0.82);transform-origin:center">11<span style="display:inline-block;transform:scaleX(0.86);transform-origin:left;margin-left:1.0px;margin-right:-2.09px">%</span></span></div>
<div class="t" style="left:901.05px;top:397.96px;font-size:16.8px;line-height:16.8px;color:#ffffff;-webkit-text-stroke:0px #fff;"><span style="display:block;position:absolute;left:-200px;width:400px;text-align:center;transform:scaleX(0.82);transform-origin:center">3<span style="display:inline-block;transform:scaleX(0.86);transform-origin:left;margin-left:1.0px;margin-right:-2.09px">%</span></span></div>
<div class="t" style="left:916.80px;top:397.96px;font-size:16.8px;line-height:16.8px;color:#ffffff;-webkit-text-stroke:0px #fff;"><span style="display:block;position:absolute;left:-200px;width:400px;text-align:center;transform:scaleX(0.82);transform-origin:center">1<span style="display:inline-block;transform:scaleX(0.86);transform-origin:left;margin-left:1.0px;margin-right:-2.09px">%</span></span></div>
<div class="t" style="left:242.05px;top:419.35px;font-size:16.8px;line-height:16.8px;color:#ffffff;-webkit-text-stroke:0px #fff;"><span style="display:block;position:absolute;left:-200px;width:400px;text-align:center;transform:scaleX(0.82);transform-origin:center">20<span style="display:inline-block;transform:scaleX(0.86);transform-origin:left;margin-left:1.0px;margin-right:-2.09px">%</span></span></div>
<div class="t" style="left:421.85px;top:419.35px;font-size:16.8px;line-height:16.8px;color:#ffffff;-webkit-text-stroke:0px #fff;"><span style="display:block;position:absolute;left:-200px;width:400px;text-align:center;transform:scaleX(0.82);transform-origin:center">27<span style="display:inline-block;transform:scaleX(0.86);transform-origin:left;margin-left:1.0px;margin-right:-2.09px">%</span></span></div>
<div class="t" style="left:646.60px;top:419.35px;font-size:16.8px;line-height:16.8px;color:#ffffff;-webkit-text-stroke:0px #fff;"><span style="display:block;position:absolute;left:-200px;width:400px;text-align:center;transform:scaleX(0.82);transform-origin:center">32<span style="display:inline-block;transform:scaleX(0.86);transform-origin:left;margin-left:1.0px;margin-right:-2.09px">%</span></span></div>
<div class="t" style="left:811.45px;top:419.35px;font-size:16.8px;line-height:16.8px;color:#ffffff;-webkit-text-stroke:0px #fff;"><span style="display:block;position:absolute;left:-200px;width:400px;text-align:center;transform:scaleX(0.82);transform-origin:center">11<span style="display:inline-block;transform:scaleX(0.86);transform-origin:left;margin-left:1.0px;margin-right:-2.09px">%</span></span></div>
<div class="t" style="left:879.35px;top:419.35px;font-size:16.8px;line-height:16.8px;color:#ffffff;-webkit-text-stroke:0px #fff;"><span style="display:block;position:absolute;left:-200px;width:400px;text-align:center;transform:scaleX(0.82);transform-origin:center">7<span style="display:inline-block;transform:scaleX(0.86);transform-origin:left;margin-left:1.0px;margin-right:-2.09px">%</span></span></div>
<div class="t" style="left:912.45px;top:419.35px;font-size:16.8px;line-height:16.8px;color:#ffffff;-webkit-text-stroke:0px #fff;"><span style="display:block;position:absolute;left:-200px;width:400px;text-align:center;transform:scaleX(0.82);transform-origin:center">1<span style="display:inline-block;transform:scaleX(0.86);transform-origin:left;margin-left:1.0px;margin-right:-2.09px">%</span></span></div>
<div class="t" style="left:241.55px;top:440.74px;font-size:16.8px;line-height:16.8px;color:#ffffff;-webkit-text-stroke:0px #fff;"><span style="display:block;position:absolute;left:-200px;width:400px;text-align:center;transform:scaleX(0.82);transform-origin:center">20<span style="display:inline-block;transform:scaleX(0.86);transform-origin:left;margin-left:1.0px;margin-right:-2.09px">%</span></span></div>
<div class="t" style="left:416.65px;top:440.74px;font-size:16.8px;line-height:16.8px;color:#ffffff;-webkit-text-stroke:0px #fff;"><span style="display:block;position:absolute;left:-200px;width:400px;text-align:center;transform:scaleX(0.82);transform-origin:center">26<span style="display:inline-block;transform:scaleX(0.86);transform-origin:left;margin-left:1.0px;margin-right:-2.09px">%</span></span></div>
<div class="t" style="left:607.00px;top:440.74px;font-size:16.8px;line-height:16.8px;color:#ffffff;-webkit-text-stroke:0px #fff;"><span style="display:block;position:absolute;left:-200px;width:400px;text-align:center;transform:scaleX(0.82);transform-origin:center">24<span style="display:inline-block;transform:scaleX(0.86);transform-origin:left;margin-left:1.0px;margin-right:-2.09px">%</span></span></div>
<div class="t" style="left:748.10px;top:440.74px;font-size:16.8px;line-height:16.8px;color:#ffffff;-webkit-text-stroke:0px #fff;"><span style="display:block;position:absolute;left:-200px;width:400px;text-align:center;transform:scaleX(0.82);transform-origin:center">13<span style="display:inline-block;transform:scaleX(0.86);transform-origin:left;margin-left:1.0px;margin-right:-2.09px">%</span></span></div>
<div class="t" style="left:836.50px;top:440.74px;font-size:16.8px;line-height:16.8px;color:#ffffff;-webkit-text-stroke:0px #fff;"><span style="display:block;position:absolute;left:-200px;width:400px;text-align:center;transform:scaleX(0.82);transform-origin:center">10<span style="display:inline-block;transform:scaleX(0.86);transform-origin:left;margin-left:1.0px;margin-right:-2.09px">%</span></span></div>
<div class="t" style="left:896.55px;top:440.74px;font-size:16.8px;line-height:16.8px;color:#ffffff;-webkit-text-stroke:0px #fff;"><span style="display:block;position:absolute;left:-200px;width:400px;text-align:center;transform:scaleX(0.82);transform-origin:center">6<span style="display:inline-block;transform:scaleX(0.86);transform-origin:left;margin-left:1.0px;margin-right:-2.09px">%</span></span></div>
<div class="t" style="left:208.55px;top:462.13px;font-size:16.8px;line-height:16.8px;color:#ffffff;-webkit-text-stroke:0px #fff;"><span style="display:block;position:absolute;left:-200px;width:400px;text-align:center;transform:scaleX(0.82);transform-origin:center">12<span style="display:inline-block;transform:scaleX(0.86);transform-origin:left;margin-left:1.0px;margin-right:-2.09px">%</span></span></div>
<div class="t" style="left:348.80px;top:462.13px;font-size:16.8px;line-height:16.8px;color:#ffffff;-webkit-text-stroke:0px #fff;"><span style="display:block;position:absolute;left:-200px;width:400px;text-align:center;transform:scaleX(0.82);transform-origin:center">26<span style="display:inline-block;transform:scaleX(0.86);transform-origin:left;margin-left:1.0px;margin-right:-2.09px">%</span></span></div>
<div class="t" style="left:567.10px;top:462.13px;font-size:16.8px;line-height:16.8px;color:#ffffff;-webkit-text-stroke:0px #fff;"><span style="display:block;position:absolute;left:-200px;width:400px;text-align:center;transform:scaleX(0.82);transform-origin:center">32<span style="display:inline-block;transform:scaleX(0.86);transform-origin:left;margin-left:1.0px;margin-right:-2.09px">%</span></span></div>
<div class="t" style="left:753.20px;top:462.13px;font-size:16.8px;line-height:16.8px;color:#ffffff;-webkit-text-stroke:0px #fff;"><span style="display:block;position:absolute;left:-200px;width:400px;text-align:center;transform:scaleX(0.82);transform-origin:center">17<span style="display:inline-block;transform:scaleX(0.86);transform-origin:left;margin-left:1.0px;margin-right:-2.09px">%</span></span></div>
<div class="t" style="left:853.95px;top:462.13px;font-size:16.8px;line-height:16.8px;color:#ffffff;-webkit-text-stroke:0px #fff;"><span style="display:block;position:absolute;left:-200px;width:400px;text-align:center;transform:scaleX(0.82);transform-origin:center">10<span style="display:inline-block;transform:scaleX(0.86);transform-origin:left;margin-left:1.0px;margin-right:-2.09px">%</span></span></div>
<div class="t" style="left:902.20px;top:462.13px;font-size:16.8px;line-height:16.8px;color:#ffffff;-webkit-text-stroke:0px #fff;"><span style="display:block;position:absolute;left:-200px;width:400px;text-align:center;transform:scaleX(0.82);transform-origin:center">3<span style="display:inline-block;transform:scaleX(0.86);transform-origin:left;margin-left:1.0px;margin-right:-2.09px">%</span></span></div>
<div class="t" style="left:208.55px;top:483.52px;font-size:16.8px;line-height:16.8px;color:#ffffff;-webkit-text-stroke:0px #fff;"><span style="display:block;position:absolute;left:-200px;width:400px;text-align:center;transform:scaleX(0.82);transform-origin:center">12<span style="display:inline-block;transform:scaleX(0.86);transform-origin:left;margin-left:1.0px;margin-right:-2.09px">%</span></span></div>
<div class="t" style="left:336.10px;top:483.52px;font-size:16.8px;line-height:16.8px;color:#ffffff;-webkit-text-stroke:0px #fff;"><span style="display:block;position:absolute;left:-200px;width:400px;text-align:center;transform:scaleX(0.82);transform-origin:center">22<span style="display:inline-block;transform:scaleX(0.86);transform-origin:left;margin-left:1.0px;margin-right:-2.09px">%</span></span></div>
<div class="t" style="left:554.90px;top:483.52px;font-size:16.8px;line-height:16.8px;color:#ffffff;-webkit-text-stroke:0px #fff;"><span style="display:block;position:absolute;left:-200px;width:400px;text-align:center;transform:scaleX(0.82);transform-origin:center">36<span style="display:inline-block;transform:scaleX(0.86);transform-origin:left;margin-left:1.0px;margin-right:-2.09px">%</span></span></div>
<div class="t" style="left:752.70px;top:483.52px;font-size:16.8px;line-height:16.8px;color:#ffffff;-webkit-text-stroke:0px #fff;"><span style="display:block;position:absolute;left:-200px;width:400px;text-align:center;transform:scaleX(0.82);transform-origin:center">17<span style="display:inline-block;transform:scaleX(0.86);transform-origin:left;margin-left:1.0px;margin-right:-2.09px">%</span></span></div>
<div class="t" style="left:858.80px;top:483.52px;font-size:16.8px;line-height:16.8px;color:#ffffff;-webkit-text-stroke:0px #fff;"><span style="display:block;position:absolute;left:-200px;width:400px;text-align:center;transform:scaleX(0.82);transform-origin:center">12<span style="display:inline-block;transform:scaleX(0.86);transform-origin:left;margin-left:1.0px;margin-right:-2.09px">%</span></span></div>
<div class="t" style="left:911.25px;top:483.52px;font-size:16.8px;line-height:16.8px;color:#ffffff;-webkit-text-stroke:0px #fff;"><span style="display:block;position:absolute;left:-200px;width:400px;text-align:center;transform:scaleX(0.82);transform-origin:center">2<span style="display:inline-block;transform:scaleX(0.86);transform-origin:left;margin-left:1.0px;margin-right:-2.09px">%</span></span></div>
<div class="t" style="left:207.55px;top:504.91px;font-size:16.8px;line-height:16.8px;color:#ffffff;-webkit-text-stroke:0px #fff;"><span style="display:block;position:absolute;left:-200px;width:400px;text-align:center;transform:scaleX(0.82);transform-origin:center">11<span style="display:inline-block;transform:scaleX(0.86);transform-origin:left;margin-left:1.0px;margin-right:-2.09px">%</span></span></div>
<div class="t" style="left:372.45px;top:504.91px;font-size:16.8px;line-height:16.8px;color:#ffffff;-webkit-text-stroke:0px #fff;"><span style="display:block;position:absolute;left:-200px;width:400px;text-align:center;transform:scaleX(0.82);transform-origin:center">33<span style="display:inline-block;transform:scaleX(0.86);transform-origin:left;margin-left:1.0px;margin-right:-2.09px">%</span></span></div>
<div class="t" style="left:607.85px;top:504.91px;font-size:16.8px;line-height:16.8px;color:#ffffff;-webkit-text-stroke:0px #fff;"><span style="display:block;position:absolute;left:-200px;width:400px;text-align:center;transform:scaleX(0.82);transform-origin:center">30<span style="display:inline-block;transform:scaleX(0.86);transform-origin:left;margin-left:1.0px;margin-right:-2.09px">%</span></span></div>
<div class="t" style="left:785.50px;top:504.91px;font-size:16.8px;line-height:16.8px;color:#ffffff;-webkit-text-stroke:0px #fff;"><span style="display:block;position:absolute;left:-200px;width:400px;text-align:center;transform:scaleX(0.82);transform-origin:center">17<span style="display:inline-block;transform:scaleX(0.86);transform-origin:left;margin-left:1.0px;margin-right:-2.09px">%</span></span></div>
<div class="t" style="left:871.90px;top:504.91px;font-size:16.8px;line-height:16.8px;color:#ffffff;-webkit-text-stroke:0px #fff;"><span style="display:block;position:absolute;left:-200px;width:400px;text-align:center;transform:scaleX(0.82);transform-origin:center">6<span style="display:inline-block;transform:scaleX(0.86);transform-origin:left;margin-left:1.0px;margin-right:-2.09px">%</span></span></div>
<div class="t" style="left:905.30px;top:504.91px;font-size:16.8px;line-height:16.8px;color:#ffffff;-webkit-text-stroke:0px #fff;"><span style="display:block;position:absolute;left:-200px;width:400px;text-align:center;transform:scaleX(0.82);transform-origin:center">3<span style="display:inline-block;transform:scaleX(0.86);transform-origin:left;margin-left:1.0px;margin-right:-2.09px">%</span></span></div>
<div class="t" style="left:198.00px;top:526.30px;font-size:16.8px;line-height:16.8px;color:#ffffff;-webkit-text-stroke:0px #fff;"><span style="display:block;position:absolute;left:-200px;width:400px;text-align:center;transform:scaleX(0.82);transform-origin:center">9<span style="display:inline-block;transform:scaleX(0.86);transform-origin:left;margin-left:1.0px;margin-right:-2.09px">%</span></span></div>
<div class="t" style="left:364.90px;top:526.30px;font-size:16.8px;line-height:16.8px;color:#ffffff;-webkit-text-stroke:0px #fff;"><span style="display:block;position:absolute;left:-200px;width:400px;text-align:center;transform:scaleX(0.82);transform-origin:center">36<span style="display:inline-block;transform:scaleX(0.86);transform-origin:left;margin-left:1.0px;margin-right:-2.09px">%</span></span></div>
<div class="t" style="left:594.45px;top:526.30px;font-size:16.8px;line-height:16.8px;color:#ffffff;-webkit-text-stroke:0px #fff;"><span style="display:block;position:absolute;left:-200px;width:400px;text-align:center;transform:scaleX(0.82);transform-origin:center">25<span style="display:inline-block;transform:scaleX(0.86);transform-origin:left;margin-left:1.0px;margin-right:-2.09px">%</span></span></div>
<div class="t" style="left:776.90px;top:526.30px;font-size:16.8px;line-height:16.8px;color:#ffffff;-webkit-text-stroke:0px #fff;"><span style="display:block;position:absolute;left:-200px;width:400px;text-align:center;transform:scaleX(0.82);transform-origin:center">23<span style="display:inline-block;transform:scaleX(0.86);transform-origin:left;margin-left:1.0px;margin-right:-2.09px">%</span></span></div>
<div class="t" style="left:882.05px;top:526.30px;font-size:16.8px;line-height:16.8px;color:#ffffff;-webkit-text-stroke:0px #fff;"><span style="display:block;position:absolute;left:-200px;width:400px;text-align:center;transform:scaleX(0.82);transform-origin:center">5<span style="display:inline-block;transform:scaleX(0.86);transform-origin:left;margin-left:1.0px;margin-right:-2.09px">%</span></span></div>
<div class="t" style="left:910.95px;top:526.30px;font-size:16.8px;line-height:16.8px;color:#ffffff;-webkit-text-stroke:0px #fff;"><span style="display:block;position:absolute;left:-200px;width:400px;text-align:center;transform:scaleX(0.82);transform-origin:center">2<span style="display:inline-block;transform:scaleX(0.86);transform-origin:left;margin-left:1.0px;margin-right:-2.09px">%</span></span></div>
<div class="t" style="left:195.00px;top:547.69px;font-size:16.8px;line-height:16.8px;color:#ffffff;-webkit-text-stroke:0px #fff;"><span style="display:block;position:absolute;left:-200px;width:400px;text-align:center;transform:scaleX(0.82);transform-origin:center">8<span style="display:inline-block;transform:scaleX(0.86);transform-origin:left;margin-left:1.0px;margin-right:-2.09px">%</span></span></div>
<div class="t" style="left:398.90px;top:547.69px;font-size:16.8px;line-height:16.8px;color:#ffffff;-webkit-text-stroke:0px #fff;"><span style="display:block;position:absolute;left:-200px;width:400px;text-align:center;transform:scaleX(0.82);transform-origin:center">46<span style="display:inline-block;transform:scaleX(0.86);transform-origin:left;margin-left:1.0px;margin-right:-2.09px">%</span></span></div>
<div class="t" style="left:661.35px;top:547.69px;font-size:16.8px;line-height:16.8px;color:#ffffff;-webkit-text-stroke:0px #fff;"><span style="display:block;position:absolute;left:-200px;width:400px;text-align:center;transform:scaleX(0.82);transform-origin:center">23<span style="display:inline-block;transform:scaleX(0.86);transform-origin:left;margin-left:1.0px;margin-right:-2.09px">%</span></span></div>
<div class="t" style="left:810.75px;top:547.69px;font-size:16.8px;line-height:16.8px;color:#ffffff;-webkit-text-stroke:0px #fff;"><span style="display:block;position:absolute;left:-200px;width:400px;text-align:center;transform:scaleX(0.82);transform-origin:center">16<span style="display:inline-block;transform:scaleX(0.86);transform-origin:left;margin-left:1.0px;margin-right:-2.09px">%</span></span></div>
<div class="t" style="left:882.75px;top:547.69px;font-size:16.8px;line-height:16.8px;color:#ffffff;-webkit-text-stroke:0px #fff;"><span style="display:block;position:absolute;left:-200px;width:400px;text-align:center;transform:scaleX(0.82);transform-origin:center">3<span style="display:inline-block;transform:scaleX(0.86);transform-origin:left;margin-left:1.0px;margin-right:-2.09px">%</span></span></div>
<div class="t" style="left:907.50px;top:547.69px;font-size:16.8px;line-height:16.8px;color:#ffffff;-webkit-text-stroke:0px #fff;"><span style="display:block;position:absolute;left:-200px;width:400px;text-align:center;transform:scaleX(0.82);transform-origin:center">3<span style="display:inline-block;transform:scaleX(0.86);transform-origin:left;margin-left:1.0px;margin-right:-2.09px">%</span></span></div>
<div class="t" style="left:192.65px;top:569.08px;font-size:16.8px;line-height:16.8px;color:#ffffff;-webkit-text-stroke:0px #fff;"><span style="display:block;position:absolute;left:-200px;width:400px;text-align:center;transform:scaleX(0.82);transform-origin:center">7<span style="display:inline-block;transform:scaleX(0.86);transform-origin:left;margin-left:1.0px;margin-right:-2.09px">%</span></span></div>
<div class="t" style="left:326.55px;top:569.08px;font-size:16.8px;line-height:16.8px;color:#ffffff;-webkit-text-stroke:0px #fff;"><span style="display:block;position:absolute;left:-200px;width:400px;text-align:center;transform:scaleX(0.82);transform-origin:center">28<span style="display:inline-block;transform:scaleX(0.86);transform-origin:left;margin-left:1.0px;margin-right:-2.09px">%</span></span></div>
<div class="t" style="left:536.30px;top:569.08px;font-size:16.8px;line-height:16.8px;color:#ffffff;-webkit-text-stroke:0px #fff;"><span style="display:block;position:absolute;left:-200px;width:400px;text-align:center;transform:scaleX(0.82);transform-origin:center">27<span style="display:inline-block;transform:scaleX(0.86);transform-origin:left;margin-left:1.0px;margin-right:-2.09px">%</span></span></div>
<div class="t" style="left:725.85px;top:569.08px;font-size:16.8px;line-height:16.8px;color:#ffffff;-webkit-text-stroke:0px #fff;"><span style="display:block;position:absolute;left:-200px;width:400px;text-align:center;transform:scaleX(0.82);transform-origin:center">23<span style="display:inline-block;transform:scaleX(0.86);transform-origin:left;margin-left:1.0px;margin-right:-2.09px">%</span></span></div>
<div class="t" style="left:848.55px;top:569.08px;font-size:16.8px;line-height:16.8px;color:#ffffff;-webkit-text-stroke:0px #fff;"><span style="display:block;position:absolute;left:-200px;width:400px;text-align:center;transform:scaleX(0.82);transform-origin:center">10<span style="display:inline-block;transform:scaleX(0.86);transform-origin:left;margin-left:1.0px;margin-right:-2.09px">%</span></span></div>
<div class="t" style="left:903.30px;top:569.08px;font-size:16.8px;line-height:16.8px;color:#ffffff;-webkit-text-stroke:0px #fff;"><span style="display:block;position:absolute;left:-200px;width:400px;text-align:center;transform:scaleX(0.82);transform-origin:center">4<span style="display:inline-block;transform:scaleX(0.86);transform-origin:left;margin-left:1.0px;margin-right:-2.09px">%</span></span></div>
<div class="t" style="left:189.80px;top:590.47px;font-size:16.8px;line-height:16.8px;color:#ffffff;-webkit-text-stroke:0px #fff;"><span style="display:block;position:absolute;left:-200px;width:400px;text-align:center;transform:scaleX(0.82);transform-origin:center">7<span style="display:inline-block;transform:scaleX(0.86);transform-origin:left;margin-left:1.0px;margin-right:-2.09px">%</span></span></div>
<div class="t" style="left:282.15px;top:590.47px;font-size:16.8px;line-height:16.8px;color:#ffffff;-webkit-text-stroke:0px #fff;"><span style="display:block;position:absolute;left:-200px;width:400px;text-align:center;transform:scaleX(0.82);transform-origin:center">18<span style="display:inline-block;transform:scaleX(0.86);transform-origin:left;margin-left:1.0px;margin-right:-2.09px">%</span></span></div>
<div class="t" style="left:489.20px;top:590.47px;font-size:16.8px;line-height:16.8px;color:#ffffff;-webkit-text-stroke:0px #fff;"><span style="display:block;position:absolute;left:-200px;width:400px;text-align:center;transform:scaleX(0.82);transform-origin:center">37<span style="display:inline-block;transform:scaleX(0.86);transform-origin:left;margin-left:1.0px;margin-right:-2.09px">%</span></span></div>
<div class="t" style="left:705.10px;top:590.47px;font-size:16.8px;line-height:16.8px;color:#ffffff;-webkit-text-stroke:0px #fff;"><span style="display:block;position:absolute;left:-200px;width:400px;text-align:center;transform:scaleX(0.82);transform-origin:center">20<span style="display:inline-block;transform:scaleX(0.86);transform-origin:left;margin-left:1.0px;margin-right:-2.09px">%</span></span></div>
<div class="t" style="left:837.00px;top:590.47px;font-size:16.8px;line-height:16.8px;color:#ffffff;-webkit-text-stroke:0px #fff;"><span style="display:block;position:absolute;left:-200px;width:400px;text-align:center;transform:scaleX(0.82);transform-origin:center">15<span style="display:inline-block;transform:scaleX(0.86);transform-origin:left;margin-left:1.0px;margin-right:-2.09px">%</span></span></div>
<div class="t" style="left:905.00px;top:590.47px;font-size:16.8px;line-height:16.8px;color:#ffffff;-webkit-text-stroke:0px #fff;"><span style="display:block;position:absolute;left:-200px;width:400px;text-align:center;transform:scaleX(0.82);transform-origin:center">3<span style="display:inline-block;transform:scaleX(0.86);transform-origin:left;margin-left:1.0px;margin-right:-2.09px">%</span></span></div>
<div class="t" style="left:188.10px;top:611.86px;font-size:16.8px;line-height:16.8px;color:#ffffff;-webkit-text-stroke:0px #fff;"><span style="display:block;position:absolute;left:-200px;width:400px;text-align:center;transform:scaleX(0.82);transform-origin:center">6<span style="display:inline-block;transform:scaleX(0.86);transform-origin:left;margin-left:1.0px;margin-right:-2.09px">%</span></span></div>
<div class="t" style="left:340.95px;top:611.86px;font-size:16.8px;line-height:16.8px;color:#ffffff;-webkit-text-stroke:0px #fff;"><span style="display:block;position:absolute;left:-200px;width:400px;text-align:center;transform:scaleX(0.82);transform-origin:center">35<span style="display:inline-block;transform:scaleX(0.86);transform-origin:left;margin-left:1.0px;margin-right:-2.09px">%</span></span></div>
<div class="t" style="left:607.30px;top:611.86px;font-size:16.8px;line-height:16.8px;color:#ffffff;-webkit-text-stroke:0px #fff;"><span style="display:block;position:absolute;left:-200px;width:400px;text-align:center;transform:scaleX(0.82);transform-origin:center">36<span style="display:inline-block;transform:scaleX(0.86);transform-origin:left;margin-left:1.0px;margin-right:-2.09px">%</span></span></div>
<div class="t" style="left:806.25px;top:611.86px;font-size:16.8px;line-height:16.8px;color:#ffffff;-webkit-text-stroke:0px #fff;"><span style="display:block;position:absolute;left:-200px;width:400px;text-align:center;transform:scaleX(0.82);transform-origin:center">17<span style="display:inline-block;transform:scaleX(0.86);transform-origin:left;margin-left:1.0px;margin-right:-2.09px">%</span></span></div>
<div class="t" style="left:880.95px;top:611.86px;font-size:16.8px;line-height:16.8px;color:#ffffff;-webkit-text-stroke:0px #fff;"><span style="display:block;position:absolute;left:-200px;width:400px;text-align:center;transform:scaleX(0.82);transform-origin:center">4<span style="display:inline-block;transform:scaleX(0.86);transform-origin:left;margin-left:1.0px;margin-right:-2.09px">%</span></span></div>
<div class="t" style="left:905.30px;top:611.86px;font-size:16.8px;line-height:16.8px;color:#ffffff;-webkit-text-stroke:0px #fff;"><span style="display:block;position:absolute;left:-200px;width:400px;text-align:center;transform:scaleX(0.82);transform-origin:center">3<span style="display:inline-block;transform:scaleX(0.86);transform-origin:left;margin-left:1.0px;margin-right:-2.09px">%</span></span></div>
<div class="t" style="left:187.25px;top:633.25px;font-size:16.8px;line-height:16.8px;color:#ffffff;-webkit-text-stroke:0px #fff;"><span style="display:block;position:absolute;left:-200px;width:400px;text-align:center;transform:scaleX(0.82);transform-origin:center">6<span style="display:inline-block;transform:scaleX(0.86);transform-origin:left;margin-left:1.0px;margin-right:-2.09px">%</span></span></div>
<div class="t" style="left:373.60px;top:633.25px;font-size:16.8px;line-height:16.8px;color:#ffffff;-webkit-text-stroke:0px #fff;"><span style="display:block;position:absolute;left:-200px;width:400px;text-align:center;transform:scaleX(0.82);transform-origin:center">44<span style="display:inline-block;transform:scaleX(0.86);transform-origin:left;margin-left:1.0px;margin-right:-2.09px">%</span></span></div>
<div class="t" style="left:636.35px;top:633.25px;font-size:16.8px;line-height:16.8px;color:#ffffff;-webkit-text-stroke:0px #fff;"><span style="display:block;position:absolute;left:-200px;width:400px;text-align:center;transform:scaleX(0.82);transform-origin:center">26<span style="display:inline-block;transform:scaleX(0.86);transform-origin:left;margin-left:1.0px;margin-right:-2.09px">%</span></span></div>
<div class="t" style="left:804.30px;top:633.25px;font-size:16.8px;line-height:16.8px;color:#ffffff;-webkit-text-stroke:0px #fff;"><span style="display:block;position:absolute;left:-200px;width:400px;text-align:center;transform:scaleX(0.82);transform-origin:center">18<span style="display:inline-block;transform:scaleX(0.86);transform-origin:left;margin-left:1.0px;margin-right:-2.09px">%</span></span></div>
<div class="t" style="left:883.85px;top:633.25px;font-size:16.8px;line-height:16.8px;color:#ffffff;-webkit-text-stroke:0px #fff;"><span style="display:block;position:absolute;left:-200px;width:400px;text-align:center;transform:scaleX(0.82);transform-origin:center">3<span style="display:inline-block;transform:scaleX(0.86);transform-origin:left;margin-left:1.0px;margin-right:-2.09px">%</span></span></div>
<div class="t" style="left:905.80px;top:633.25px;font-size:16.8px;line-height:16.8px;color:#ffffff;-webkit-text-stroke:0px #fff;"><span style="display:block;position:absolute;left:-200px;width:400px;text-align:center;transform:scaleX(0.82);transform-origin:center">3<span style="display:inline-block;transform:scaleX(0.86);transform-origin:left;margin-left:1.0px;margin-right:-2.09px">%</span></span></div>
<div class="t" style="left:184.10px;top:654.64px;font-size:16.8px;line-height:16.8px;color:#ffffff;-webkit-text-stroke:0px #fff;"><span style="display:block;position:absolute;left:-200px;width:400px;text-align:center;transform:scaleX(0.82);transform-origin:center">5<span style="display:inline-block;transform:scaleX(0.86);transform-origin:left;margin-left:1.0px;margin-right:-2.09px">%</span></span></div>
<div class="t" style="left:314.45px;top:654.64px;font-size:16.8px;line-height:16.8px;color:#ffffff;-webkit-text-stroke:0px #fff;"><span style="display:block;position:absolute;left:-200px;width:400px;text-align:center;transform:scaleX(0.82);transform-origin:center">30<span style="display:inline-block;transform:scaleX(0.86);transform-origin:left;margin-left:1.0px;margin-right:-2.09px">%</span></span></div>
<div class="t" style="left:511.95px;top:654.64px;font-size:16.8px;line-height:16.8px;color:#ffffff;-webkit-text-stroke:0px #fff;"><span style="display:block;position:absolute;left:-200px;width:400px;text-align:center;transform:scaleX(0.82);transform-origin:center">23<span style="display:inline-block;transform:scaleX(0.86);transform-origin:left;margin-left:1.0px;margin-right:-2.09px">%</span></span></div>
<div class="t" style="left:709.05px;top:654.64px;font-size:16.8px;line-height:16.8px;color:#ffffff;-webkit-text-stroke:0px #fff;"><span style="display:block;position:absolute;left:-200px;width:400px;text-align:center;transform:scaleX(0.82);transform-origin:center">29<span style="display:inline-block;transform:scaleX(0.86);transform-origin:left;margin-left:1.0px;margin-right:-2.09px">%</span></span></div>
<div class="t" style="left:860.15px;top:654.64px;font-size:16.8px;line-height:16.8px;color:#ffffff;-webkit-text-stroke:0px #fff;"><span style="display:block;position:absolute;left:-200px;width:400px;text-align:center;transform:scaleX(0.82);transform-origin:center">11<span style="display:inline-block;transform:scaleX(0.86);transform-origin:left;margin-left:1.0px;margin-right:-2.09px">%</span></span></div>
<div class="t" style="left:910.75px;top:654.64px;font-size:16.8px;line-height:16.8px;color:#ffffff;-webkit-text-stroke:0px #fff;"><span style="display:block;position:absolute;left:-200px;width:400px;text-align:center;transform:scaleX(0.82);transform-origin:center">2<span style="display:inline-block;transform:scaleX(0.86);transform-origin:left;margin-left:1.0px;margin-right:-2.09px">%</span></span></div>
</div>
<div class="t" style="left:23.06px;top:162.80px;font-size:15.7px;line-height:15.7px;color:#112448;transform:scaleX(1.0352);transform-origin:left;-webkit-text-stroke:0.1px #112448">Івано-Франківськ</div>
<div class="t" style="left:92.38px;top:184.19px;font-size:15.7px;line-height:15.7px;color:#112448;transform:scaleX(1.0179);transform-origin:left;-webkit-text-stroke:0.1px #112448">Вінниця</div>
<div class="t" style="left:107.10px;top:205.58px;font-size:15.7px;line-height:15.7px;color:#112448;transform:scaleX(1.0310);transform-origin:left;-webkit-text-stroke:0.1px #112448">Луцьк</div>
<div class="t" style="left:105.22px;top:226.97px;font-size:15.7px;line-height:15.7px;color:#112448;transform:scaleX(0.9822);transform-origin:left;-webkit-text-stroke:0.1px #112448">Одеса</div>
<div class="t" style="left:87.25px;top:248.36px;font-size:15.7px;line-height:15.7px;color:#112448;transform:scaleX(1.0525);transform-origin:left;-webkit-text-stroke:0.1px #112448">Ужгород</div>
<div class="t" style="left:111.50px;top:269.75px;font-size:15.7px;line-height:15.7px;color:#112448;transform:scaleX(1.0237);transform-origin:left;-webkit-text-stroke:0.1px #112448">Львів</div>
<div class="t" style="left:77.30px;top:291.14px;font-size:15.7px;line-height:15.7px;color:#112448;transform:scaleX(1.0153);transform-origin:left;-webkit-text-stroke:0.1px #112448">Тернопіль</div>
<div class="t" style="left:90.14px;top:312.53px;font-size:15.7px;line-height:15.7px;color:#112448;transform:scaleX(1.0571);transform-origin:left;-webkit-text-stroke:0.1px #112448">Чернігів</div>
<div class="t" style="left:102.66px;top:333.92px;font-size:15.7px;line-height:15.7px;color:#112448;transform:scaleX(1.0378);transform-origin:left;-webkit-text-stroke:0.1px #112448">Харків</div>
<div class="t" style="left:42.57px;top:355.31px;font-size:15.7px;line-height:15.7px;color:#112448;transform:scaleX(1.0269);transform-origin:left;-webkit-text-stroke:0.1px #112448">Хмельницький</div>
<div class="t" style="left:90.20px;top:376.70px;font-size:15.7px;line-height:15.7px;color:#112448;transform:scaleX(1.0034);transform-origin:left;-webkit-text-stroke:0.1px #112448">Черкаси</div>
<div class="t" style="left:111.09px;top:398.09px;font-size:15.7px;line-height:15.7px;color:#112448;transform:scaleX(1.0079);transform-origin:left;-webkit-text-stroke:0.1px #112448">Рівне</div>
<div class="t" style="left:118.74px;top:419.48px;font-size:15.7px;line-height:15.7px;color:#112448;transform:scaleX(1.0552);transform-origin:left;-webkit-text-stroke:0.1px #112448">Київ</div>
<div class="t" style="left:83.20px;top:440.87px;font-size:15.7px;line-height:15.7px;color:#112448;transform:scaleX(1.0030);transform-origin:left;-webkit-text-stroke:0.1px #112448">Житомир</div>
<div class="t" style="left:74.10px;top:462.26px;font-size:15.7px;line-height:15.7px;color:#112448;transform:scaleX(1.0040);transform-origin:left;-webkit-text-stroke:0.1px #112448">Маріуполь</div>
<div class="t" style="left:38.20px;top:483.65px;font-size:15.7px;line-height:15.7px;color:#112448;transform:scaleX(1.0018);transform-origin:left;-webkit-text-stroke:0.1px #112448">Сєвєродонецьк</div>
<div class="t" style="left:113.02px;top:505.04px;font-size:15.7px;line-height:15.7px;color:#112448;transform:scaleX(0.9838);transform-origin:left;-webkit-text-stroke:0.1px #112448">Суми</div>
<div class="t" style="left:35.66px;top:526.43px;font-size:15.7px;line-height:15.7px;color:#112448;transform:scaleX(1.0431);transform-origin:left;-webkit-text-stroke:0.1px #112448">Кропивницький</div>
<div class="t" style="left:91.04px;top:547.82px;font-size:15.7px;line-height:15.7px;color:#112448;transform:scaleX(0.9574);transform-origin:left;-webkit-text-stroke:0.1px #112448">Полтава</div>
<div class="t" style="left:82.89px;top:569.21px;font-size:15.7px;line-height:15.7px;color:#112448;transform:scaleX(1.0076);transform-origin:left;-webkit-text-stroke:0.1px #112448">Миколаїв</div>
<div class="t" style="left:97.91px;top:590.60px;font-size:15.7px;line-height:15.7px;color:#112448;transform:scaleX(0.9904);transform-origin:left;-webkit-text-stroke:0.1px #112448">Херсон</div>
<div class="t" style="left:100.00px;top:611.99px;font-size:15.7px;line-height:15.7px;color:#112448;transform:scaleX(1.0500);transform-origin:left;-webkit-text-stroke:0.1px #112448">Дніпро</div>
<div class="t" style="left:87.96px;top:633.38px;font-size:15.7px;line-height:15.7px;color:#112448;transform:scaleX(1.0407);transform-origin:left;-webkit-text-stroke:0.1px #112448">Чернівці</div>
<div class="t" style="left:70.85px;top:654.77px;font-size:15.7px;line-height:15.7px;color:#112448;transform:scaleX(1.0467);transform-origin:left;-webkit-text-stroke:0.1px #112448">Запоріжжя</div>
<div class="b" style="left:164.80px;top:159.00px;width:1px;height:517.90px;background:#a6a6a6"></div>
<div class="b" style="left:164.80px;top:672px;width:753.50px;height:1px;background:#a6a6a6"></div>
<div class="b" style="left:159.80px;top:158.50px;width:5px;height:1px;background:#a6a6a6"></div>
<div class="b" style="left:159.80px;top:179.89px;width:5px;height:1px;background:#a6a6a6"></div>
<div class="b" style="left:159.80px;top:201.28px;width:5px;height:1px;background:#a6a6a6"></div>
<div class="b" style="left:159.80px;top:222.67px;width:5px;height:1px;background:#a6a6a6"></div>
<div class="b" style="left:159.80px;top:244.06px;width:5px;height:1px;background:#a6a6a6"></div>
<div class="b" style="left:159.80px;top:265.45px;width:5px;height:1px;background:#a6a6a6"></div>
<div class="b" style="left:159.80px;top:286.84px;width:5px;height:1px;background:#a6a6a6"></div>
<div class="b" style="left:159.80px;top:308.23px;width:5px;height:1px;background:#a6a6a6"></div>
<div class="b" style="left:159.80px;top:329.62px;width:5px;height:1px;background:#a6a6a6"></div>
<div class="b" style="left:159.80px;top:351.01px;width:5px;height:1px;background:#a6a6a6"></div>
<div class="b" style="left:159.80px;top:372.40px;width:5px;height:1px;background:#a6a6a6"></div>
<div class="b" style="left:159.80px;top:393.79px;width:5px;height:1px;background:#a6a6a6"></div>
<div class="b" style="left:159.80px;top:415.18px;width:5px;height:1px;background:#a6a6a6"></div>
<div class="b" style="left:159.80px;top:436.57px;width:5px;height:1px;background:#a6a6a6"></div>
<div class="b" style="left:159.80px;top:457.96px;width:5px;height:1px;background:#a6a6a6"></div>
<div class="b" style="left:159.80px;top:479.35px;width:5px;height:1px;background:#a6a6a6"></div>
<div class="b" style="left:159.80px;top:500.74px;width:5px;height:1px;background:#a6a6a6"></div>
<div class="b" style="left:159.80px;top:522.13px;width:5px;height:1px;background:#a6a6a6"></div>
<div class="b" style="left:159.80px;top:543.52px;width:5px;height:1px;background:#a6a6a6"></div>
<div class="b" style="left:159.80px;top:564.91px;width:5px;height:1px;background:#a6a6a6"></div>
<div class="b" style="left:159.80px;top:586.30px;width:5px;height:1px;background:#a6a6a6"></div>
<div class="b" style="left:159.80px;top:607.69px;width:5px;height:1px;background:#a6a6a6"></div>
<div class="b" style="left:159.80px;top:629.08px;width:5px;height:1px;background:#a6a6a6"></div>
<div class="b" style="left:159.80px;top:650.47px;width:5px;height:1px;background:#a6a6a6"></div>
<div class="b" style="left:159.80px;top:671.86px;width:5px;height:1px;background:#a6a6a6"></div>
<div class="b" style="left:164.80px;top:672px;width:1px;height:5px;background:#a6a6a6"></div>
<div class="t" style="left:165.30px;top:684.76px;font-size:16.7px;line-height:16.7px;color:#112448;-webkit-text-stroke:0.1px #112448;"><span style="display:block;position:absolute;left:-200px;width:400px;text-align:center;transform:scaleX(0.86);transform-origin:center">0<span style="display:inline-block;transform:scaleX(0.78);transform-origin:left;margin-left:0.6px;margin-right:-3.27px">%</span></span></div>
<div class="b" style="left:240.05px;top:672px;width:1px;height:5px;background:#a6a6a6"></div>
<div class="t" style="left:240.55px;top:684.76px;font-size:16.7px;line-height:16.7px;color:#112448;-webkit-text-stroke:0.1px #112448;"><span style="display:block;position:absolute;left:-200px;width:400px;text-align:center;transform:scaleX(0.86);transform-origin:center">10<span style="display:inline-block;transform:scaleX(0.78);transform-origin:left;margin-left:0.6px;margin-right:-3.27px">%</span></span></div>
<div class="b" style="left:315.30px;top:672px;width:1px;height:5px;background:#a6a6a6"></div>
<div class="t" style="left:315.80px;top:684.76px;font-size:16.7px;line-height:16.7px;color:#112448;-webkit-text-stroke:0.1px #112448;"><span style="display:block;position:absolute;left:-200px;width:400px;text-align:center;transform:scaleX(0.86);transform-origin:center">20<span style="display:inline-block;transform:scaleX(0.78);transform-origin:left;margin-left:0.6px;margin-right:-3.27px">%</span></span></div>
<div class="b" style="left:390.55px;top:672px;width:1px;height:5px;background:#a6a6a6"></div>
<div class="t" style="left:391.05px;top:684.76px;font-size:16.7px;line-height:16.7px;color:#112448;-webkit-text-stroke:0.1px #112448;"><span style="display:block;position:absolute;left:-200px;width:400px;text-align:center;transform:scaleX(0.86);transform-origin:center">30<span style="display:inline-block;transform:scaleX(0.78);transform-origin:left;margin-left:0.6px;margin-right:-3.27px">%</span></span></div>
<div class="b" style="left:465.80px;top:672px;width:1px;height:5px;background:#a6a6a6"></div>
<div class="t" style="left:466.30px;top:684.76px;font-size:16.7px;line-height:16.7px;color:#112448;-webkit-text-stroke:0.1px #112448;"><span style="display:block;position:absolute;left:-200px;width:400px;text-align:center;transform:scaleX(0.86);transform-origin:center">40<span style="display:inline-block;transform:scaleX(0.78);transform-origin:left;margin-left:0.6px;margin-right:-3.27px">%</span></span></div>
<div class="b" style="left:541.05px;top:672px;width:1px;height:5px;background:#a6a6a6"></div>
<div class="t" style="left:541.55px;top:684.76px;font-size:16.7px;line-height:16.7px;color:#112448;-webkit-text-stroke:0.1px #112448;"><span style="display:block;position:absolute;left:-200px;width:400px;text-align:center;transform:scaleX(0.86);transform-origin:center">50<span style="display:inline-block;transform:scaleX(0.78);transform-origin:left;margin-left:0.6px;margin-right:-3.27px">%</span></span></div>
<div class="b" style="left:616.30px;top:672px;width:1px;height:5px;background:#a6a6a6"></div>
<div class="t" style="left:616.80px;top:684.76px;font-size:16.7px;line-height:16.7px;color:#112448;-webkit-text-stroke:0.1px #112448;"><span style="display:block;position:absolute;left:-200px;width:400px;text-align:center;transform:scaleX(0.86);transform-origin:center">60<span style="display:inline-block;transform:scaleX(0.78);transform-origin:left;margin-left:0.6px;margin-right:-3.27px">%</span></span></div>
<div class="b" style="left:691.55px;top:672px;width:1px;height:5px;background:#a6a6a6"></div>
<div class="t" style="left:692.05px;top:684.76px;font-size:16.7px;line-height:16.7px;color:#112448;-webkit-text-stroke:0.1px #112448;"><span style="display:block;position:absolute;left:-200px;width:400px;text-align:center;transform:scaleX(0.86);transform-origin:center">70<span style="display:inline-block;transform:scaleX(0.78);transform-origin:left;margin-left:0.6px;margin-right:-3.27px">%</span></span></div>
<div class="b" style="left:766.80px;top:672px;width:1px;height:5px;background:#a6a6a6"></div>
<div class="t" style="left:767.30px;top:684.76px;font-size:16.7px;line-height:16.7px;color:#112448;-webkit-text-stroke:0.1px #112448;"><span style="display:block;position:absolute;left:-200px;width:400px;text-align:center;transform:scaleX(0.86);transform-origin:center">80<span style="display:inline-block;transform:scaleX(0.78);transform-origin:left;margin-left:0.6px;margin-right:-3.27px">%</span></span></div>
<div class="b" style="left:842.05px;top:672px;width:1px;height:5px;background:#a6a6a6"></div>
<div class="t" style="left:842.55px;top:684.76px;font-size:16.7px;line-height:16.7px;color:#112448;-webkit-text-stroke:0.1px #112448;"><span style="display:block;position:absolute;left:-200px;width:400px;text-align:center;transform:scaleX(0.86);transform-origin:center">90<span style="display:inline-block;transform:scaleX(0.78);transform-origin:left;margin-left:0.6px;margin-right:-3.27px">%</span></span></div>
<div class="b" style="left:917.30px;top:672px;width:1px;height:5px;background:#a6a6a6"></div>
<div class="t" style="left:917.80px;top:684.76px;font-size:16.7px;line-height:16.7px;color:#112448;-webkit-text-stroke:0.1px #112448;"><span style="display:block;position:absolute;left:-200px;width:400px;text-align:center;transform:scaleX(0.86);transform-origin:center">100<span style="display:inline-block;transform:scaleX(0.78);transform-origin:left;margin-left:0.6px;margin-right:-3.27px">%</span></span></div>
</body></html>
